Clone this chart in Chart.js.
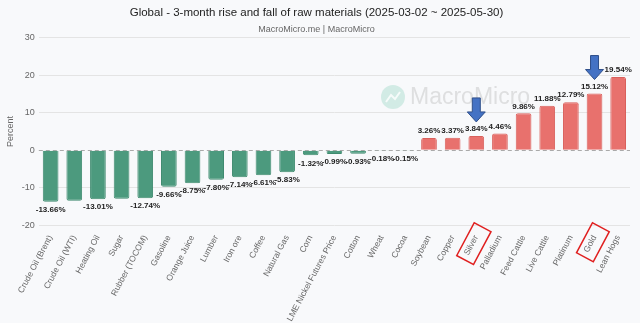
<!DOCTYPE html>
<html>
<head>
<meta charset="utf-8">
<script src="https://cdn.jsdelivr.net/npm/chart.js@4.4.1/dist/chart.umd.min.js"></script>
<style>
    html, body { margin: 0; padding: 0; background: #f8f9fb; }
    #wrap { width: 640px; height: 323px; position: relative; }
</style>
</head>
<body>
<div id="wrap"><canvas id="chartRawMaterials"></canvas></div>
<script>
// Raw materials, 3-month change (%)
const categories = [
    'Crude Oil (Brent)', 'Crude Oil (WTI)', 'Heating Oil', 'Sugar', 'Rubber (TOCOM)',
    'Gasoline', 'Orange Juice', 'Lumber', 'Iron ore', 'Coffee', 'Natural Gas', 'Corn',
    'LME Nickel Futures Price', 'Cotton', 'Wheat', 'Cocoa', 'Soybean', 'Copper', 'Silver',
    'Palladium', 'Feed Cattle', 'Live Cattle', 'Platinum', 'Gold', 'Lean Hogs'
];
const changes = [
    -13.66, -13.40, -13.01, -12.90, -12.74,
    -9.66, -8.75, -7.80, -7.14, -6.61, -5.83, -1.32,
    -0.99, -0.93, -0.18, -0.15, 3.26, 3.37, 3.84,
    4.46, 9.86, 11.88, 12.79, 15.12, 19.54
];
// labels hidden in the original (overlap)
const hiddenLabels = ['Crude Oil (WTI)', 'Sugar'];
const highlighted = ['Silver', 'Gold'];
const yTicks = [-20, -10, 0, 10, 20, 30];

const green = '#4c9a7e';
const red = '#e8716d';
const fontFamily = '"Liberation Sans", Arial, sans-serif';

const bgPlugin = {
    id: 'bg',
    beforeDraw(chart) {
        const ctx = chart.ctx;
        ctx.save();
        ctx.fillStyle = '#f8f9fb';
        ctx.fillRect(0, 0, chart.width, chart.height);
        ctx.restore();
    },
    beforeDatasetsDraw(chart) {
        const { ctx, chartArea, scales } = chart;
        // watermark
        ctx.save();
        ctx.fillStyle = 'rgba(140, 210, 190, 0.35)';
        ctx.beginPath();
        ctx.arc(393, 97, 12, 0, Math.PI * 2);
        ctx.fill();
        ctx.strokeStyle = 'rgba(255,255,255,0.8)';
        ctx.lineWidth = 2;
        ctx.beginPath();
        ctx.moveTo(386, 102);
        ctx.lineTo(391, 95);
        ctx.lineTo(395, 99);
        ctx.lineTo(400, 92);
        ctx.stroke();
        ctx.fillStyle = 'rgba(190, 190, 190, 0.45)';
        ctx.font = '23px ' + fontFamily;
        ctx.textBaseline = 'middle';
        ctx.fillText('MacroMicro', 410, 98);
        ctx.restore();
        // dashed zero line
        const y0 = Math.round(scales.y.getPixelForValue(0));
        ctx.save();
        ctx.strokeStyle = '#aaaaaa';
        ctx.lineWidth = 1;
        ctx.setLineDash([4, 3]);
        ctx.beginPath();
        ctx.moveTo(chartArea.left, y0 + 0.5);
        ctx.lineTo(chartArea.right, y0 + 0.5);
        ctx.stroke();
        ctx.restore();
    }
};

const labelPlugin = {
    id: 'barLabels',
    afterDatasetsDraw(chart) {
        const { ctx, scales } = chart;
        const meta = chart.getDatasetMeta(0);
        ctx.save();
        ctx.font = 'bold 8px ' + fontFamily;
        ctx.fillStyle = '#222';
        ctx.textAlign = 'center';
        meta.data.forEach((bar, i) => {
            if (hiddenLabels.includes(categories[i])) return;
            const v = changes[i];
            const text = v.toFixed(2) + '%';
            if (v >= 0) {
                ctx.textBaseline = 'bottom';
                ctx.fillText(text, bar.x, bar.y - 3);
            } else {
                ctx.textBaseline = 'top';
                ctx.fillText(text, bar.x, bar.y + 4);
            }
        });
        ctx.restore();

        // blue arrows over highlighted bars
        highlighted.forEach(name => {
            const i = categories.indexOf(name);
            const bar = meta.data[i];
            const tip = scales.y.getPixelForValue(changes[i]) - 14;
            const x = bar.x;
            ctx.save();
            ctx.fillStyle = '#4472c4';
            ctx.strokeStyle = '#2f4f8a';
            ctx.lineWidth = 1;
            ctx.beginPath();
            ctx.moveTo(x - 4, tip - 24);
            ctx.lineTo(x + 4, tip - 24);
            ctx.lineTo(x + 4, tip - 10);
            ctx.lineTo(x + 9, tip - 10);
            ctx.lineTo(x, tip);
            ctx.lineTo(x - 9, tip - 10);
            ctx.lineTo(x - 4, tip - 10);
            ctx.closePath();
            ctx.fill();
            ctx.stroke();
            ctx.restore();
        });
    },
    afterDraw(chart) {
        const { ctx, scales } = chart;
        const xs = scales.x;
        const rot = xs.labelRotation * Math.PI / 180;
        ctx.save();
        ctx.font = '8.5px ' + fontFamily;
        highlighted.forEach(name => {
            const i = categories.indexOf(name);
            const w = ctx.measureText(name).width;
            const x = xs.getPixelForTick(i);
            const y = xs.top + 9;
            ctx.save();
            ctx.translate(x + 3, y);
            ctx.rotate(-rot);
            ctx.strokeStyle = '#e02020';
            ctx.lineWidth = 1.5;
            ctx.strokeRect(-w - 8, -10, w + 16, 19);
            ctx.restore();
        });
        ctx.restore();
    }
};

new Chart(document.getElementById('chartRawMaterials'), {
    type: 'bar',
    data: {
        labels: categories,
        datasets: [{
            data: changes,
            backgroundColor: changes.map(v => v >= 0 ? red : green),
            borderColor: changes.map(v => v >= 0 ? '#d9605c' : '#3f8a6f'),
            borderWidth: 1,
            borderRadius: 2,
            categoryPercentage: 0.8,
            barPercentage: 0.83
        }]
    },
    options: {
        responsive: true,
        maintainAspectRatio: false,
        animation: false,
        layout: { padding: { left: 3, right: 10, top: 2, bottom: 0 } },
        plugins: {
            legend: { display: false },
            tooltip: { enabled: false },
            title: {
                display: true,
                text: 'Global - 3-month rise and fall of raw materials (2025-03-02 ~ 2025-05-30)',
                color: '#222',
                font: { size: 11.5, family: fontFamily, weight: 'normal' },
                padding: { top: 4, bottom: 4 }
            },
            subtitle: {
                display: true,
                text: 'MacroMicro.me | MacroMicro',
                color: '#666',
                font: { size: 9, family: fontFamily },
                padding: { bottom: 3 }
            }
        },
        scales: {
            y: {
                min: -20,
                max: 30,
                afterBuildTicks: axis => { axis.ticks = yTicks.map(v => ({ value: v })); },
                ticks: {
                    color: '#666',
                    font: { size: 9, family: fontFamily },
                    padding: 4
                },
                grid: {
                    color: ctx => ctx.tick && ctx.tick.value === 0 ? 'rgba(0,0,0,0)' : '#e4e4e4',
                    drawTicks: false
                },
                border: { display: false },
                title: {
                    display: true,
                    text: 'Percent',
                    color: '#666',
                    font: { size: 9, family: fontFamily },
                    padding: 2
                }
            },
            x: {
                ticks: {
                    color: '#666',
                    font: { size: 8.5, family: fontFamily },
                    maxRotation: 62,
                    minRotation: 62,
                    autoSkip: false,
                    padding: 0
                },
                grid: { display: false },
                border: { display: false }
            }
        }
    },
    plugins: [bgPlugin, labelPlugin]
});
</script>
</body>
</html>
